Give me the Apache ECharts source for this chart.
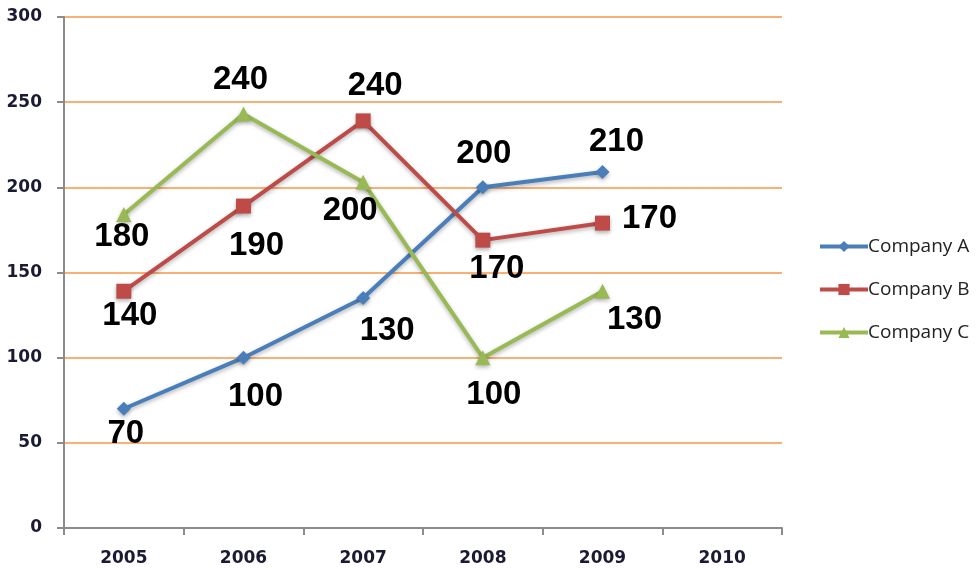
<!DOCTYPE html>
<html><head><meta charset="utf-8">
<script src="https://cdn.jsdelivr.net/npm/echarts@6/dist/echarts.min.js"></script>
<style>html,body{margin:0;padding:0;background:#fff}#c{width:980px;height:568px}</style>
</head><body><div id="c"></div>
<script>
const categories = ['2005','2006','2007','2008','2009','2010'];
const companyA = [70, 100, 135, 200, 209, null];
const companyB = [139, 189, 239, 169, 179, null];
const companyC = [184, 243, 203, 100, 139, null];
const labelsA = ['70','100','130','200','210'];
const labelsB = ['140','190','240','170','170'];
const labelsC = ['180','240','200','100','130'];
const yTicks = [0, 50, 100, 150, 200, 250, 300];

const offA = [[2,25],[12,39],[24,33],[1,-33],[14,-30]];
const offB = [[6,25],[13,40],[12,-35],[14,29],[47,-4]];
const offC = [[-2,22],[-3,-34],[-13,29],[11,37],[32,29]];

function build(vals, labels, offs) {
  return vals.map((v, i) => {
    if (v === null) return null;
    return {
      value: v,
      label: {
        show: true, position: 'inside', offset: offs[i], formatter: labels[i],
        fontFamily: 'Liberation Sans, Arial', fontWeight: 'bold', fontSize: 33, color: '#000'
      }
    };
  });
}

function series(name, vals, labels, offs, color, symbol, size) {
  return {
    name, type: 'line', data: build(vals, labels, offs), symbol, symbolSize: size,
    showAllSymbol: true, connectNulls: false,
    lineStyle: { color, width: 4, shadowColor: 'rgba(0,0,0,0.3)', shadowBlur: 4, shadowOffsetY: 2 },
    itemStyle: { color, shadowColor: 'rgba(0,0,0,0.3)', shadowBlur: 4, shadowOffsetY: 2 },
    emphasis: { disabled: true }, animation: false, z: 3
  };
}

const chart = echarts.init(document.getElementById('c'));
chart.setOption({
  animation: false,
  grid: { left: 64, right: 198, top: 17, bottom: 40, containLabel: false },
  legend: {
    orient: 'vertical', left: 813, top: 232, itemGap: 24, itemWidth: 48, itemHeight: 14,
    lineStyle: { width: 4, shadowBlur: 0 },
    itemStyle: { shadowBlur: 0 },
    textStyle: { fontFamily: 'Open Sans, Liberation Sans', fontSize: 19, color: '#222', padding: [0,0,0,-5] },
    data: ['Company A', 'Company B', 'Company C']
  },
  xAxis: {
    type: 'category', data: categories, boundaryGap: true,
    axisLine: { lineStyle: { color: '#8c8c8c', width: 2 } },
    axisTick: { show: true, interval: 0, length: 7, inside: false, lineStyle: { color: '#8c8c8c', width: 2 } },
    axisLabel: { interval: 0, margin: 22, fontFamily: 'DejaVu Sans', fontWeight: 'bold', fontSize: 17, color: '#1a1a33' },
    splitLine: { show: false }
  },
  yAxis: {
    type: 'value', min: 0, max: 300, interval: 50,
    axisLine: { show: true, lineStyle: { color: '#8c8c8c', width: 2 } },
    axisTick: { show: true, length: 7, lineStyle: { color: '#8c8c8c', width: 2 } },
    axisLabel: { margin: 22, fontFamily: 'DejaVu Sans', fontWeight: 'bold', fontSize: 17, color: '#1a1a33',
      formatter: v => yTicks.includes(v) ? String(v) : '' },
    splitLine: { show: true, lineStyle: { color: '#f79646', width: 1.5 } }
  },
  series: [
    series('Company A', companyA, labelsA, offA, '#4a7ebb', 'diamond', 14),
    series('Company B', companyB, labelsB, offB, '#be4b48', 'rect', 15),
    series('Company C', companyC, labelsC, offC, '#98b954', 'triangle', 15)
  ]
});
</script></body></html>
